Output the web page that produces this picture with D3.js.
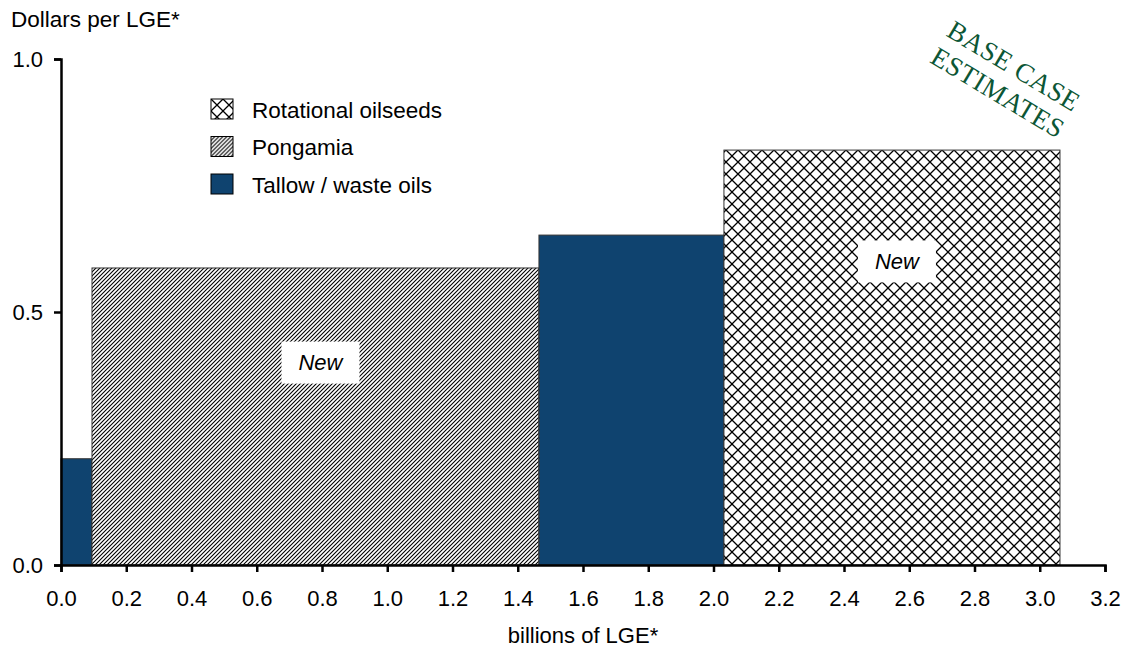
<!DOCTYPE html>
<html>
<head>
<meta charset="utf-8">
<script src="https://cdn.jsdelivr.net/npm/d3@7"></script>
<style>
  body { margin: 0; background: #fff; }
  text { font-family: "Liberation Sans", Arial, sans-serif; fill: #000; }
</style>
</head>
<body>
<div id="chart"></div>
<script>
// supply segments (cost curve): start / end volume in billions LGE, cost in $/LGE
const segSource = ["Tallow / waste oils", "Pongamia", "Tallow / waste oils", "Rotational oilseeds"];
const segStart = [0, 0.095, 1.465, 2.032];
const segEnd = [0.095, 1.465, 2.032, 3.062];
const segCost = [0.21, 0.587, 0.652, 0.82];
// "New" tags: which segment, and the cost level they sit at
const tagSeg = [1, 3];
const tagLevel = [0.40, 0.60];

const legendNames = ["Rotational oilseeds", "Pongamia", "Tallow / waste oils"];
const xTicks = d3.range(0, 3.21, 0.2);
const yTicks = [0, 0.5, 1.0];

const width = 1129, height = 648;
const margin = {left: 61, right: 24, top: 59, bottom: 83};

const svg = d3.select('#chart').append('svg')
    .attr('width', width)
    .attr('height', height);

// fill patterns
const defs = svg.append('defs');
const hatch = defs.append('pattern')
    .attr('id', 'hatch')
    .attr('patternUnits', 'userSpaceOnUse')
    .attr('width', 4).attr('height', 4);
hatch.append('rect').attr('width', 4).attr('height', 4).attr('fill', '#fff');
hatch.append('path')
    .attr('d', 'M-1,1 L1,-1 M0,4 L4,0 M3,5 L5,3')
    .attr('stroke', '#000').attr('stroke-width', 1.1);

const cross = defs.append('pattern')
    .attr('id', 'cross')
    .attr('patternUnits', 'userSpaceOnUse')
    .attr('width', 12).attr('height', 12);
cross.append('rect').attr('width', 12).attr('height', 12).attr('fill', '#fff');
cross.append('path')
    .attr('d', 'M0,0 L12,12 M12,0 L0,12')
    .attr('stroke', '#000').attr('stroke-width', 1.3);

const fills = {
    "Tallow / waste oils": '#0f436f',
    "Pongamia": 'url(#hatch)',
    "Rotational oilseeds": 'url(#cross)'
};

const x = d3.scaleLinear()
    .domain([0, 3.2])
    .range([margin.left, width - margin.right]);
const y = d3.scaleLinear()
    .domain([0, 1])
    .range([height - margin.bottom, margin.top]);

// bars
const segs = segSource.map((s, i) => ({s, x0: segStart[i], x1: segEnd[i], v: segCost[i]}));
svg.append('g').selectAll('rect')
    .data(segs)
    .join('rect')
    .attr('x', d => x(d.x0))
    .attr('width', d => x(d.x1) - x(d.x0))
    .attr('y', d => y(d.v))
    .attr('height', d => y(0) - y(d.v))
    .attr('fill', d => fills[d.s])
    .attr('stroke', '#333')
    .attr('stroke-width', 1);

// "New" tags
const tags = svg.append('g').selectAll('g')
    .data(tagSeg.map((k, i) => ({seg: segs[k], level: tagLevel[i]})))
    .join('g')
    .attr('transform', d => `translate(${x((d.seg.x0 + d.seg.x1) / 2) + 5},${y(d.level)})`);
tags.append('rect')
    .attr('x', -39).attr('y', -21)
    .attr('width', 78).attr('height', 42)
    .attr('fill', '#fff');
tags.append('text')
    .attr('text-anchor', 'middle')
    .attr('dy', '0.35em')
    .style('font-size', '22px')
    .style('font-style', 'italic')
    .text('New');

// axes
const xAxis = svg.append('g')
    .attr('transform', `translate(0,${y(0)})`)
    .call(d3.axisBottom(x).tickValues(xTicks).tickFormat(d3.format('.1f')).tickSize(7).tickPadding(18));
const yAxis = svg.append('g')
    .attr('transform', `translate(${x(0)},0)`)
    .call(d3.axisLeft(y).tickValues(yTicks).tickFormat(d3.format('.1f')).tickSize(7).tickPadding(11));
[xAxis, yAxis].forEach(a => {
    a.select('.domain').attr('stroke', '#000').attr('stroke-width', 2.5);
    a.selectAll('.tick line').attr('stroke', '#000').attr('stroke-width', 2.5);
    a.selectAll('.tick text').style('font-size', '22px').attr('fill', '#000');
});

// axis titles
svg.append('text')
    .attr('x', 11).attr('y', 27)
    .style('font-size', '22.5px')
    .text('Dollars per LGE*');
svg.append('text')
    .attr('x', x(1.6)).attr('y', 643)
    .attr('text-anchor', 'middle')
    .style('font-size', '22px')
    .text('billions of LGE*');

// legend
const legend = svg.append('g').attr('transform', 'translate(211,99)');
const items = legend.selectAll('g')
    .data(legendNames)
    .join('g')
    .attr('transform', (d, i) => `translate(0,${i * 37.5})`);
items.append('rect')
    .attr('width', 22).attr('height', 20)
    .attr('fill', d => fills[d])
    .attr('stroke', '#000').attr('stroke-width', 1);
items.append('text')
    .attr('x', 41).attr('y', 11)
    .attr('dy', '0.35em')
    .style('font-size', '22.5px')
    .text(d => d);

// stamp
const stamp = svg.append('g')
    .attr('transform', 'translate(1006,79) rotate(31)');
stamp.selectAll('text')
    .data(['BASE CASE', 'ESTIMATES'])
    .join('text')
    .attr('x', 0).attr('y', (d, i) => i * 31 - 15.5)
    .attr('dy', '0.35em')
    .attr('text-anchor', 'middle')
    .style('font-family', '"Liberation Serif", "Times New Roman", serif')
    .style('font-size', '27px')
    .style('letter-spacing', '0.5px')
    .style('fill', '#0c5635')
    .text(d => d);
</script>
</body>
</html>
